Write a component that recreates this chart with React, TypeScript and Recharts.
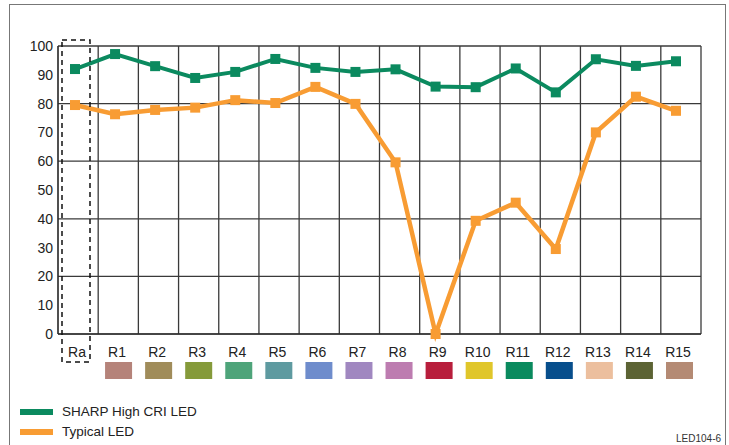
import { LineChart, Line, XAxis, YAxis, CartesianGrid } from 'recharts';

const categories = ['Ra', 'R1', 'R2', 'R3', 'R4', 'R5', 'R6', 'R7', 'R8', 'R9', 'R10', 'R11', 'R12', 'R13', 'R14', 'R15'];
const sharpValues = [92, 97.2, 93, 88.9, 91, 95.5, 92.4, 91, 91.9, 85.9, 85.7, 92.2, 83.9, 95.4, 93.1, 94.7];
const typicalValues = [79.5, 76.3, 77.8, 78.6, 81.2, 80.2, 85.8, 79.9, 59.6, 0, 39.3, 45.6, 29.5, 70, 82.4, 77.5];
const swatchColors = [
  '', '#b5837a', '#a08c5a', '#859a3a', '#4ea47a', '#5e9aa0', '#6e8ccc', '#a087c0',
  '#bd7cb0', '#b81e3c', '#e0c62a', '#0a8a5e', '#074e8c', '#ecbf9e', '#5c6334', '#b48a74',
];
const yTicks = [0, 10, 20, 30, 40, 50, 60, 70, 80, 90, 100];

const series = [
  { key: 'sharp', name: 'SHARP High CRI LED', color: '#0b8a5f', width: 4 },
  { key: 'typical', name: 'Typical LED', color: '#f89c33', width: 4.5 },
];

const data = categories.map((c, i) => ({ cat: c, sharp: sharpValues[i], typical: typicalValues[i] }));

const FONT = '"Liberation Sans", Arial, Helvetica, sans-serif';
const TOP = 46;

function CategoryTick(props: any) {
  const { x, y, payload, index } = props;
  const color = swatchColors[index];
  return (
    <g>
      <text x={x + 2} y={y + 23} textAnchor="middle" fontSize={14} fill="#222" fontFamily={FONT}>
        {payload.value}
      </text>
      {color ? <rect x={x - 10} y={y + 28} width={27} height={17} fill={color} /> : null}
      {index === 0 ? (
        <rect
          x={x - 13}
          y={TOP - 6}
          width={28}
          height={y + 28 - (TOP - 6)}
          fill="none"
          stroke="#111"
          strokeWidth={1.5}
          strokeDasharray="5 4"
        />
      ) : null}
    </g>
  );
}

function squareDot(color: string) {
  return (p: any) => (
    <rect key={`d-${p.index}`} x={p.cx - 5} y={p.cy - 5} width={10} height={10} fill={color} />
  );
}

export default function App() {
  return (
    <div style={{ position: 'absolute', left: 0, top: 0, width: 729, height: 445, background: '#fff', fontFamily: FONT }}>
      <div
        style={{
          position: 'absolute', left: 9, top: 4, width: 715, height: 441,
          borderTop: '1.5px solid #777', borderLeft: '1.5px solid #777', borderRight: '1.5px solid #777',
        }}
      />
      <div style={{ position: 'absolute', left: 0, top: 0 }}>
        <LineChart width={729} height={445} data={data} margin={{ top: TOP, right: 28, bottom: 81, left: 18 }}>
          <CartesianGrid
            stroke="#3a3a3a"
            strokeWidth={1.3}
            verticalCoordinatesGenerator={({ offset }: any) =>
              Array.from({ length: categories.length + 1 }, (_, i) => offset.left + (i * offset.width) / categories.length)
            }
            horizontalCoordinatesGenerator={({ offset }: any) =>
              [0, 1, 2, 3, 4, 5].map((i) => offset.top + (i * offset.height) / 5)
            }
          />
          <XAxis
            dataKey="cat"
            height={30}
            padding={{ left: 17, right: 25 }}
            axisLine={{ stroke: '#222' }}
            tickLine={false}
            tickSize={0}
            tickMargin={0}
            interval={0}
            tick={<CategoryTick />}
          />
          <YAxis
            width={40}
            domain={[0, 100]}
            ticks={yTicks}
            axisLine={{ stroke: '#222' }}
            tickLine={false}
            tickSize={0}
            tickMargin={5}
            tick={{ fontSize: 14, fill: '#222', fontFamily: FONT }}
          />
          {series.map((s) => (
            <Line
              key={s.key}
              dataKey={s.key}
              name={s.name}
              stroke={s.color}
              strokeWidth={s.width}
              type="linear"
              dot={squareDot(s.color)}
              activeDot={false}
              isAnimationActive={false}
            />
          ))}
        </LineChart>
      </div>
      {series.map((s, i) => (
        <div key={s.key} style={{ position: 'absolute', left: 20, top: 404 + i * 20, display: 'flex', alignItems: 'center' }}>
          <div style={{ width: 33, height: 6, background: s.color }} />
          <span style={{ marginLeft: 9, fontSize: 13.5, color: '#222' }}>{s.name}</span>
        </div>
      ))}
      <div style={{ position: 'absolute', left: 676, top: 433, fontSize: 10, color: '#333' }}>LED104-6</div>
    </div>
  );
}
